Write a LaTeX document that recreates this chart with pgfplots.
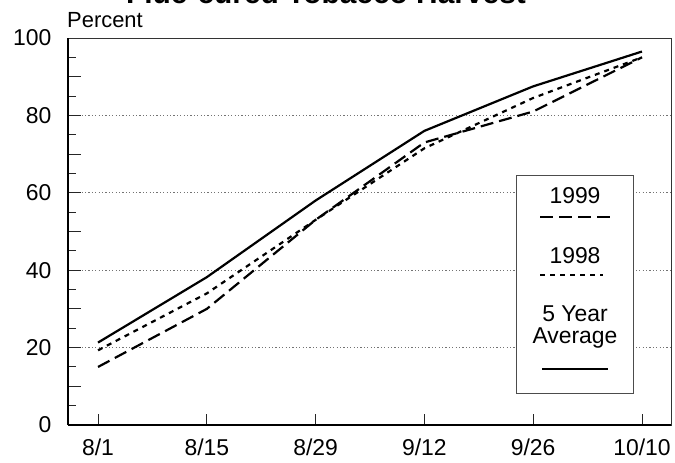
\documentclass[border=0pt]{standalone}
\usepackage{fontspec}
\setmainfont{Liberation Sans}
\usepackage{pgfplots}
\pgfplotsset{compat=1.18}
\begin{document}
\begin{tikzpicture}[x=1bp,y=1bp]
\begin{axis}[
  at={(0,0)}, anchor=south west,
  scale only axis, width=603bp, height=387bp,
  xmin=-0.276, xmax=5.267, ymin=0, ymax=100,
  xtick={0,...,5}, xticklabels={8/1,8/15,8/29,9/12,9/26,10/10},
  ytick={0,20,...,100},
  minor ytick={5,15,...,95},
  extra y ticks={10,30,50,70,90}, extra y tick labels={},
  extra y tick style={grid=none},
  tick pos=left, tick align=inside,
  major tick length=13bp, minor tick length=8bp,
  xtick style={/pgfplots/major tick length=11bp},
  ymajorgrids,
  grid style={black!55, line width=0.7bp, dash pattern=on 1.2bp off 2.2bp},
  axis line style={black!80, line width=0.9bp},
  tick style={black!85, line width=0.9bp},
  ticklabel style={font=\fontsize{23}{26}\selectfont},
  /pgf/number format/assume math mode=true,
  yticklabel style={xshift=-13bp},
  xticklabel style={yshift=-10bp},
  clip=false,
]
% 1999
\addplot[black, line width=2.2bp, dash pattern=on 13bp off 6bp]
  coordinates {(0,15) (1,30) (2,53) (3,73) (4,81) (5,95)};
% 1998
\addplot[black, line width=2.2bp, dash pattern=on 5bp off 5bp]
  coordinates {(0,19.3) (1,34) (2,53) (3,71.5) (4,84.5) (5,95)};
% 5 year average
\addplot[black, line width=2.2bp]
  coordinates {(0,21.3) (1,38.2) (2,58) (3,76) (4,87.5) (5,96.5)};
\draw[black, line width=1.6bp] (rel axis cs:0,0) -- (rel axis cs:1,0);
\draw[black, line width=1.4bp] (rel axis cs:0,0) -- (rel axis cs:0,1);
\end{axis}
% legend
\filldraw[fill=white, draw=black!70, line width=0.8bp] (448,32) rectangle (565,250);
\begin{scope}[every node/.style={font=\fontsize{23}{23}\selectfont, align=center}]
\node at (507,229) {1999};
\draw[black, line width=2.2bp, dash pattern=on 13bp off 6bp] (472,208) -- (542,208);
\node at (507,169) {1998};
\draw[black, line width=2.2bp, dash pattern=on 5bp off 5bp] (472,150) -- (535,150);
\node at (507,98) {5 Year\\Average};
\draw[black, line width=2.2bp] (474,56) -- (540,56);
\end{scope}
\node[font=\fontsize{30}{36}\selectfont\bfseries, anchor=base] at (258,421) {Flue-cured Tobacco Harvest};
\node[anchor=base west, inner sep=0pt, font=\fontsize{22}{26}\selectfont] at (-1,397) {Percent};
\pgfresetboundingbox
\path[use as bounding box] (-68,-38) rectangle (607,425);
\end{tikzpicture}
\end{document}
